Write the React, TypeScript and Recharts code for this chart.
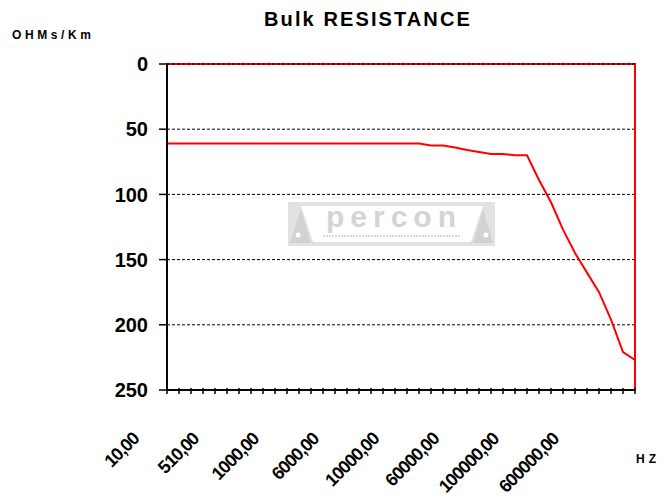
import {
  LineChart,
  Line,
  XAxis,
  YAxis,
  CartesianGrid,
  ReferenceArea,
  ReferenceLine,
} from "recharts";

/* ---------- DATA ---------- */
const FREQUENCIES = [
  10, 110, 210, 310, 410, 510, 610, 710, 810, 910,
  1000, 2000, 3000, 4000, 5000, 6000, 7000, 8000, 9000, 9500,
  10000, 20000, 30000, 40000, 50000, 60000, 70000, 80000, 90000, 95000,
  100000, 200000, 300000, 400000, 500000, 600000, 700000, 800000, 900000, 1000000,
];

const RESISTANCE = [
  61, 61, 61, 61, 61, 61, 61, 61, 61, 61,
  61, 61, 61, 61, 61, 61, 61, 61, 61, 61,
  61, 61, 62.5, 62.5, 64, 66, 67.5, 69, 69, 70,
  70, 89, 106, 127, 145, 160, 175, 196, 221, 227,
];

const Y_TICKS = [0, 50, 100, 150, 200, 250];

const data = FREQUENCIES.map((f, i) => ({
  freq: `${f},00`,
  ohms: RESISTANCE[i],
}));

const FONT = "Arial, 'Liberation Sans', sans-serif";

/* ---------- X TICK ---------- */
function FreqTick(props: any) {
  const { x, y, index, payload } = props;
  const ax = x - 27;
  const ay = 440;
  return (
    <g>
      <path d={`M${x},${y - 10}L${x},${y - 4}`} stroke="#000" strokeWidth={1.5} />
      {index % 5 === 0 && (
        <text
          x={ax}
          y={ay}
          transform={`rotate(-45 ${ax} ${ay})`}
          textAnchor="end"
          fontFamily={FONT}
          fontWeight="bold"
          fontSize={18}
          letterSpacing={-1}
          fill="#000"
        >
          {payload.value}
        </text>
      )}
    </g>
  );
}

/* ---------- WATERMARK ---------- */
function Watermark() {
  return (
    <svg
      width={210}
      height={46}
      style={{ position: "absolute", left: 287, top: 201 }}
    >
      <rect x={1} y={1} width={207} height={44} fill="#e2e2e2" />
      <polygon points="14,5 196,5 184,41 26,41" fill="#fff" />
      <polygon points="3,42 14,8 24,42" fill="#d2d2d2" />
      <polygon points="186,42 196,8 206,42" fill="#d2d2d2" />
      <circle cx={11} cy={34} r={2.5} fill="#fff" />
      <circle cx={199} cy={34} r={2.5} fill="#fff" />
      <text
        x={107}
        y={26}
        textAnchor="middle"
        fontFamily={FONT}
        fontWeight="bold"
        fontSize={30}
        letterSpacing={6}
        fill="#d4d4d4"
      >
        percon
      </text>
      <line x1={36} y1={35} x2={174} y2={35} stroke="#d6d6d6" strokeWidth={2} strokeDasharray="2 1" />
    </svg>
  );
}

/* ---------- COMPONENT ---------- */
export default function App() {
  const textStyle = {
    position: "absolute" as const,
    fontFamily: FONT,
    fontWeight: "bold" as const,
    color: "#000",
    whiteSpace: "nowrap" as const,
  };

  return (
    <div
      style={{
        position: "absolute",
        left: 0,
        top: 0,
        width: 667,
        height: 500,
        background: "#fff",
      }}
    >
      <Watermark />

      <div style={{ position: "absolute", left: 0, top: 0 }}>
        <LineChart
          width={667}
          height={500}
          data={data}
          margin={{ top: 64, right: 32, bottom: 0, left: 0 }}
        >
          <CartesianGrid
            vertical={false}
            stroke="#000"
            strokeDasharray="3 2"
          />
          <ReferenceArea
            x1={data[0].freq}
            x2={data[data.length - 1].freq}
            y1={0}
            y2={250}
            fill="none"
            stroke="#ff0000"
            strokeWidth={2}
            ifOverflow="visible"
          />
          <ReferenceLine y={0} stroke="#000" strokeDasharray="3 2" />
          <ReferenceLine y={250} stroke="#000" strokeWidth={1.5} />
          <ReferenceLine x={data[0].freq} stroke="#000" strokeWidth={1.5} />
          <XAxis
            dataKey="freq"
            interval={0}
            height={110}
            tickLine={false}
            tick={<FreqTick />}
            axisLine={{ stroke: "#000", strokeWidth: 1.5 }}
          />
          <YAxis
            reversed
            width={167}
            domain={[0, 250]}
            ticks={Y_TICKS}
            interval={0}
            tickSize={8}
            tickMargin={11}
            axisLine={{ stroke: "#000", strokeWidth: 1.5 }}
            tickLine={{ stroke: "#000", strokeWidth: 1.5 }}
            tick={{
              fill: "#000",
              fontSize: 20,
              fontWeight: "bold",
              fontFamily: FONT,
            }}
          />
          <Line
            type="linear"
            dataKey="ohms"
            stroke="#ff0000"
            strokeWidth={2}
            dot={false}
            isAnimationActive={false}
          />
        </LineChart>
      </div>

      <div
        style={{
          ...textStyle,
          left: 0,
          width: 736,
          top: 8,
          textAlign: "center",
          fontSize: 20,
          letterSpacing: 2.1,
        }}
      >
        Bulk RESISTANCE
      </div>
      <div style={{ ...textStyle, left: 12, top: 28, fontSize: 12, letterSpacing: 3.6 }}>
        OHMs/Km
      </div>
      <div style={{ ...textStyle, left: 636, top: 452, fontSize: 12, letterSpacing: 4 }}>
        HZ
      </div>
    </div>
  );
}
